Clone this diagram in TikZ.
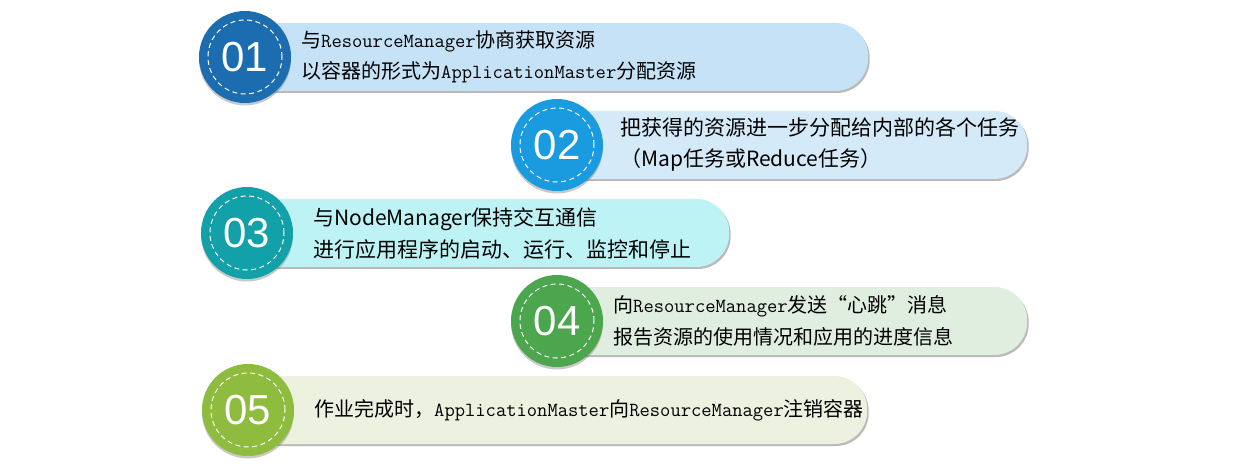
\documentclass[tikz,border=0pt]{standalone}
\usepackage{fontspec}
\setmainfont{Liberation Sans}
\newfontfamily\cjk{Noto Sans CJK SC}
\newcommand{\en}[1]{{\ttfamily #1}}
\usetikzlibrary{shadows}

\definecolor{numA}{HTML}{1C6DAF}
\definecolor{numB}{HTML}{1A9BDF}
\definecolor{numC}{HTML}{12A0A9}
\definecolor{numD}{HTML}{4CA64D}
\definecolor{numE}{HTML}{8EBC3F}
\definecolor{barA}{HTML}{C6E2F7}
\definecolor{barB}{HTML}{D5EAF8}
\definecolor{barC}{HTML}{BDF3F5}
\definecolor{barD}{HTML}{DFEEDE}
\definecolor{barE}{HTML}{EDF1E0}

\begin{document}
\begin{tikzpicture}[x=1pt,y=-1pt,
    bar/.style  = {anchor=west, rounded corners=33pt, minimum height=68pt,
                   drop shadow={shadow xshift=1.5pt,shadow yshift=-2pt,fill=black!60,opacity=.45}},
    num/.style  = {circle, minimum size=92pt, text=white, font=\fontsize{42}{42}\selectfont,
                   drop shadow={shadow xshift=0pt,shadow yshift=-2.5pt,fill=black!60,opacity=.35}},
    ring/.style = {white, line width=1pt, dash pattern=on 5pt off 3.5pt},
    txt/.style  = {anchor=west, align=left, inner sep=0pt, font=\cjk\fontsize{20}{31}\selectfont}]

    \useasboundingbox[fill=white] (0,0) rectangle (1236,470);

    % 01
    \node[bar, fill=barA, minimum width=628pt] (b1) at (240,57) {};
    \node[num, fill=numA] (c1) at (245,57) {01};
    \draw[ring] (c1) circle (37pt);
    \node[txt] (t1) at (301,57) {与\en{ResourceManager}协商获取资源\\以容器的形式为\en{ApplicationMaster}分配资源};

    % 02
    \node[bar, fill=barB, minimum width=475pt] (b2) at (552,145) {};
    \node[num, fill=numB] (c2) at (557,145) {02};
    \draw[ring] (c2) circle (37pt);
    \node[txt, font=\cjk\fontsize{21}{31}\selectfont] (t2) at (620,145) {把获得的资源进一步分配给内部的各个任务\\（Map任务或Reduce任务）};

    % 03
    \node[bar, fill=barC, minimum width=487pt] (b3) at (242,233) {};
    \node[num, fill=numC] (c3) at (247,233) {03};
    \draw[ring] (c3) circle (37pt);
    \node[txt, font=\cjk\fontsize{21}{32}\selectfont] (t3) at (313,233) {与NodeManager保持交互通信\\进行应用程序的启动、运行、监控和停止};

    % 04
    \node[bar, fill=barD, minimum width=475pt] (b4) at (552,321) {};
    \node[num, fill=numD] (c4) at (557,321) {04};
    \draw[ring] (c4) circle (37pt);
    \node[txt, font=\cjk\fontsize{20}{32}\selectfont] (t4) at (613,321) {向\en{ResourceManager}发送“心跳”消息\\报告资源的使用情况和应用的进度信息};

    % 05
    \node[bar, fill=barE, minimum width=624pt] (b5) at (243,410) {};
    \node[num, fill=numE] (c5) at (248,410) {05};
    \draw[ring] (c5) circle (37pt);
    \node[txt] (t5) at (314,410) {作业完成时，\en{ApplicationMaster}向\en{ResourceManager}注销容器};

\end{tikzpicture}
\end{document}
